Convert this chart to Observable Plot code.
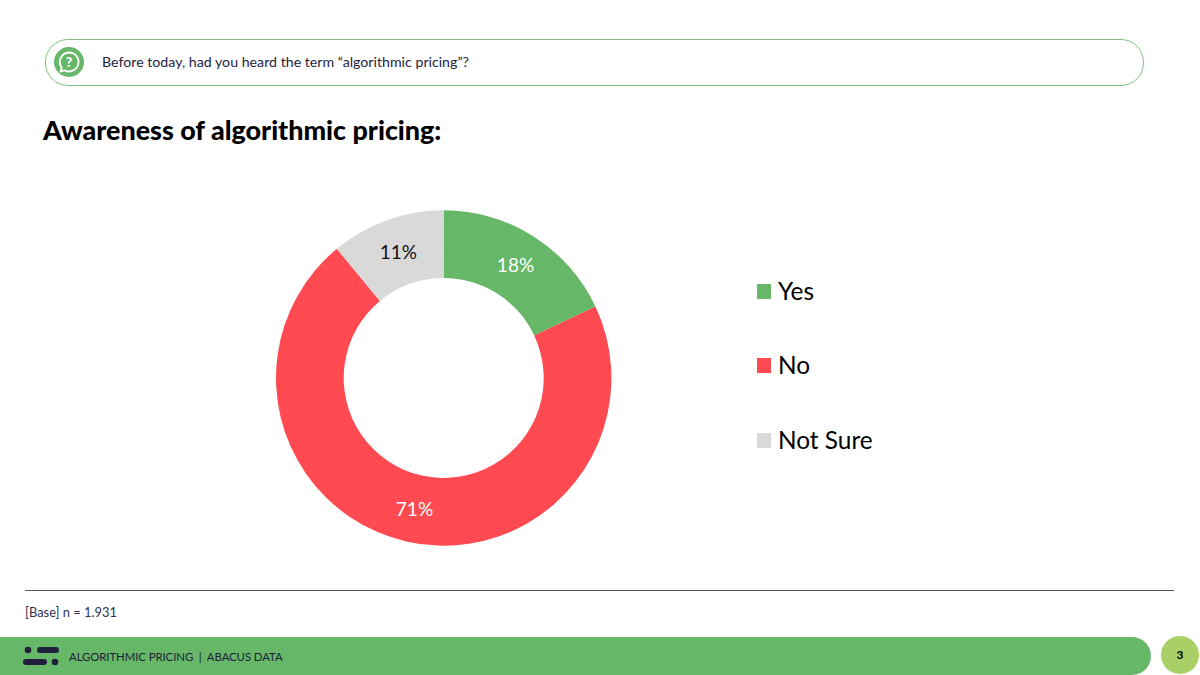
<!DOCTYPE html>
<html lang="en">
<head>
<meta charset="utf-8">
<script src="https://cdn.jsdelivr.net/npm/d3@7"></script>
<script src="https://cdn.jsdelivr.net/npm/@observablehq/plot@0.6"></script>
<style>
  html, body { margin: 0; padding: 0; background: #fff; }
  body { width: 1200px; height: 675px; position: relative; overflow: hidden; font-family: Lato, "Open Sans", sans-serif; color: #000; }
  .abs { position: absolute; }
  #pill { left: 45px; top: 39px; width: 1097px; height: 45px; border: 1px solid #7fbf80; border-radius: 23px; }
  #question { left: 102px; top: 52px; font-size: 14.2px; line-height: 20px; color: #23233f; white-space: nowrap; }
  #title { left: 43px; top: 112px; font-size: 26.85px; line-height: 36px; font-weight: 900; white-space: nowrap; }
  #chart { left: 0; top: 190px; }
  #chart svg { display: block; }
  .key { position: absolute; left: 757px; display: flex; align-items: center; font-size: 24.4px; line-height: 30px; white-space: nowrap; }
  .key i { display: block; width: 14px; height: 15px; margin-right: 7px; }
  #rule { left: 25px; top: 590px; width: 1149px; height: 1px; background: #55555f; }
  #base { left: 25px; top: 603px; font-size: 12.9px; line-height: 18px; color: #33334d; }
  #bar { left: 0; top: 637px; width: 1151px; height: 38px; background: #66b768; border-radius: 0 19px 19px 0; }
  #foot { left: 69px; top: 648px; font-size: 11.4px; letter-spacing: -0.08px; line-height: 18px; color: #1f1f3a; white-space: pre; }
  #badge { left: 1161px; top: 636px; width: 38px; height: 38px; border-radius: 50%; background: #a9d066; text-align: center; font-size: 12px; font-weight: 700; line-height: 38px; }
</style>
</head>
<body>
<div class="abs" id="pill"></div>
<svg class="abs" style="left:53px;top:46px" width="32" height="32" viewBox="0 0 32 32">
  <circle cx="16" cy="16" r="15" fill="#66b768"/>
  <path d="M16 6.5a9.5 9.5 0 1 1-4.6 17.8L7.5 25.5l1.2-3.9A9.5 9.5 0 0 1 16 6.5z" fill="none" stroke="#fff" stroke-width="1.9" stroke-linejoin="round"/>
  <text x="16" y="20.8" text-anchor="middle" font-family="Lato" font-weight="900" font-size="14" fill="#fff">?</text>
</svg>
<div class="abs" id="question"></div>
<div class="abs" id="title"></div>
<div class="abs" id="chart"></div>
<div id="legend"></div>
<div class="abs" id="rule"></div>
<div class="abs" id="base"></div>
<div class="abs" id="bar"></div>
<svg class="abs" style="left:23px;top:646px" width="38" height="20" fill="#20203c">
  <circle cx="5" cy="4" r="3.3"/>
  <rect x="14" y="1" width="22" height="6" rx="3"/>
  <rect x="0" y="13" width="24" height="6" rx="3"/>
  <circle cx="32" cy="16" r="3.3"/>
</svg>
<div class="abs" id="foot"></div>
<div class="abs" id="badge"></div>

<script>
const questionText = "Before today, had you heard the term “algorithmic pricing”?";
const titleText = "Awareness of algorithmic pricing:";
const baseText = "[Base] n = 1.931";
const footerText = "ALGORITHMIC PRICING  |  ABACUS DATA";
const pageNumber = "3";

const categories = ["Yes", "No", "Not Sure"];
const shares = [18, 71, 11];
const sliceColors = ["#66b768", "#ff4a52", "#d9d9d9"];
const labelColors = ["#ffffff", "#ffffff", "#111111"];
const legendTops = [276, 350, 425];

document.getElementById("question").textContent = questionText;
document.getElementById("title").textContent = titleText;
document.getElementById("base").textContent = baseText;
document.getElementById("foot").textContent = footerText;
document.getElementById("badge").textContent = pageNumber;

let running = 0;
const slices = categories.map((category, i) => {
  const start = running;
  running += shares[i];
  return {category, share: shares[i], start, end: running, labelColor: labelColors[i]};
});

const cx = 443.7, cy = 188, outer = 167.7, inner = 100, labelRadius = 134;

const arcs = Plot.barX(slices, {
  x1: "start",
  x2: "end",
  fill: "category",
  title: d => `${d.category}: ${d.share}%`,
  render(index, scales, channels) {
    const arc = d3.arc().innerRadius(inner).outerRadius(outer);
    const g = d3.create("svg:g").attr("transform", `translate(${cx},${cy})`);
    for (const i of index) {
      g.append("path")
        .attr("d", arc({startAngle: channels.x1[i], endAngle: channels.x2[i]}))
        .attr("fill", channels.fill[i]);
    }
    for (const i of index) {
      const mid = (channels.x1[i] + channels.x2[i]) / 2;
      g.append("text")
        .attr("x", labelRadius * Math.sin(mid))
        .attr("y", -labelRadius * Math.cos(mid))
        .attr("text-anchor", "middle")
        .attr("dominant-baseline", "central")
        .attr("font-family", "Lato, sans-serif")
        .attr("font-size", 19)
        .attr("fill", slices[i].labelColor)
        .text(`${slices[i].share}%`);
    }
    return g.node();
  }
});

const chart = Plot.plot({
  width: 900,
  height: 380,
  margin: 0,
  x: {domain: [0, 100], range: [0, 2 * Math.PI], axis: null},
  color: {domain: categories, range: sliceColors},
  marks: [arcs]
});
document.getElementById("chart").appendChild(chart);

const legend = document.getElementById("legend");
categories.forEach((category, i) => {
  const row = document.createElement("div");
  row.className = "key";
  row.style.top = legendTops[i] + "px";
  const swatch = document.createElement("i");
  swatch.style.background = sliceColors[i];
  row.appendChild(swatch);
  row.appendChild(document.createTextNode(category));
  legend.appendChild(row);
});
</script>
</body>
</html>
